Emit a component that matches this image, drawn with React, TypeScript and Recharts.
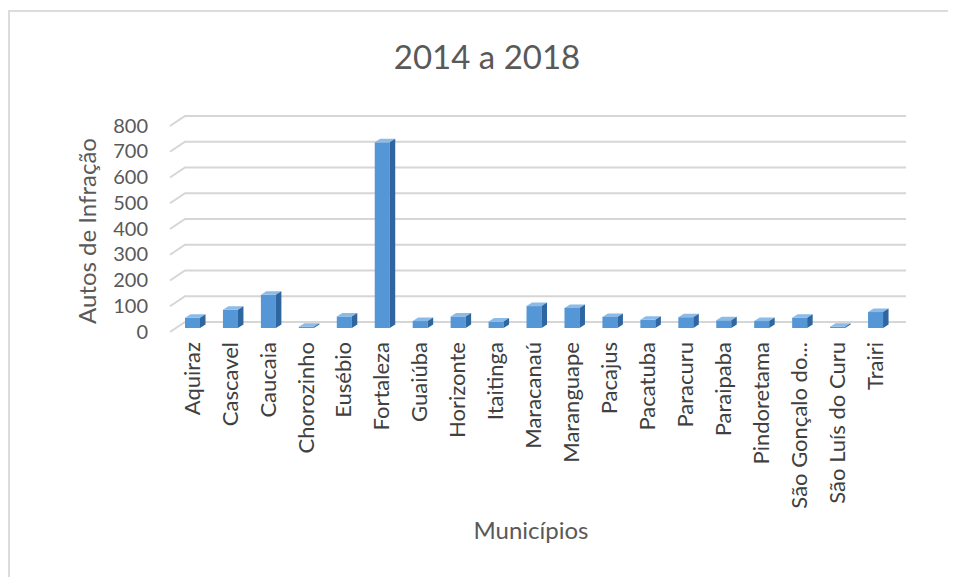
import React from "react";
import { BarChart, Bar, XAxis, YAxis, CartesianGrid, Label } from "recharts";

const municipios = [
  "Aquiraz", "Cascavel", "Caucaia", "Chorozinho", "Eusébio", "Fortaleza", "Guaiúba",
  "Horizonte", "Itaitinga", "Maracanaú", "Maranguape", "Pacajus", "Pacatuba", "Paracuru",
  "Paraipaba", "Pindoretama", "São Gonçalo do...", "São Luís do Curu", "Trairi",
];
const autos = [40, 71, 129, 5, 45, 721, 27, 45, 25, 85, 78, 43, 32, 42, 30, 27, 40, 5, 62];
const yTicks = [0, 100, 200, 300, 400, 500, 600, 700, 800];

const data = municipios.map((name, i) => ({ name, autos: autos[i] }));

const FONT = "Lato, 'Open Sans', sans-serif";

// pseudo 3D column like the Excel original
function Bar3D(props: any) {
  const { x, y, width, height } = props;
  if (x == null || y == null) return null;
  const fx = x - 3;
  const fy = y + 6;
  const w = width;
  const h = Math.max(height, 0.5);
  const dx = 5.5;
  const dy = -3.5;
  return (
    <g>
      <rect x={fx} y={fy} width={w} height={h} fill="#5596d6" />
      <polygon
        points={`${fx},${fy} ${fx + dx},${fy + dy} ${fx + w + dx},${fy + dy} ${fx + w},${fy}`}
        fill="#8cbbe8"
      />
      <polygon
        points={`${fx + w},${fy} ${fx + w + dx},${fy + dy} ${fx + w + dx},${fy + h + dy} ${fx + w},${fy + h}`}
        fill="#2f669f"
      />
    </g>
  );
}

function GridLine(props: any) {
  const { x1, y1, x2 } = props;
  return (
    <path
      key={props.key}
      d={`M ${x1 - 7} ${y1 + 10} L ${x1 + 8} ${y1} L ${x2 + 8} ${y1}`}
      stroke="#d6d6d6"
      strokeWidth={2}
      fill="none"
    />
  );
}

function YTick(props: any) {
  const { y, payload } = props;
  return (
    <text x={138} y={y + 9.5} dy="0.35em" textAnchor="end" fill="#595959" fontSize={20} fontFamily={FONT}>
      {payload.value}
    </text>
  );
}

function XTick(props: any) {
  const { x, y, payload } = props;
  const cx = x - 4;
  const cy = y + 20;
  return (
    <text
      x={cx}
      y={cy}
      dy="0.35em"
      textAnchor="end"
      transform={`rotate(-90, ${cx}, ${cy})`}
      fill="#404040"
      fontSize={22}
      fontFamily={FONT}
    >
      {payload.value}
    </text>
  );
}

export default function App() {
  return (
    <div
      style={{
        position: "relative",
        width: 940,
        height: 565,
        marginTop: 2,
        borderLeft: "2px solid #dcdcdc",
        borderTop: "2px solid #dcdcdc",
        background: "#fff",
      }}
    >
      <div
        style={{
          position: "absolute",
          left: 327,
          top: 28,
          width: 300,
          textAlign: "center",
          fontFamily: FONT,
          fontSize: 33,
          lineHeight: "32px",
          color: "#595959",
        }}
      >
        2014 a 2018
      </div>
      <BarChart
        width={940}
        height={565}
        data={data}
        margin={{ top: 104, right: 52, bottom: 25, left: 107 }}
        barSize={15}
      >
        <CartesianGrid vertical={false} horizontal={GridLine as any} />
        <YAxis
          domain={[0, 800]}
          ticks={yTicks}
          width={60}
          axisLine={false}
          tickLine={false}
          tick={<YTick />}
          interval={0}
        >
          <Label
            content={() => (
              <text
                x={78}
                y={219}
                dy="0.35em"
                textAnchor="middle"
                transform="rotate(-90, 78, 219)"
                fill="#595959"
                fontSize={24}
                fontFamily={FONT}
              >
                Autos de Infração
              </text>
            )}
          />
        </YAxis>
        <XAxis
          dataKey="name"
          height={230}
          axisLine={false}
          tickLine={false}
          tickSize={0}
          tickMargin={0}
          interval={0}
          tick={<XTick />}
        >
          <Label
            content={() => (
              <text x={521} y={527} textAnchor="middle" fill="#595959" fontSize={24} fontFamily={FONT}>
                Municípios
              </text>
            )}
          />
        </XAxis>
        <Bar dataKey="autos" isAnimationActive={false} shape={<Bar3D />} />
      </BarChart>
    </div>
  );
}
